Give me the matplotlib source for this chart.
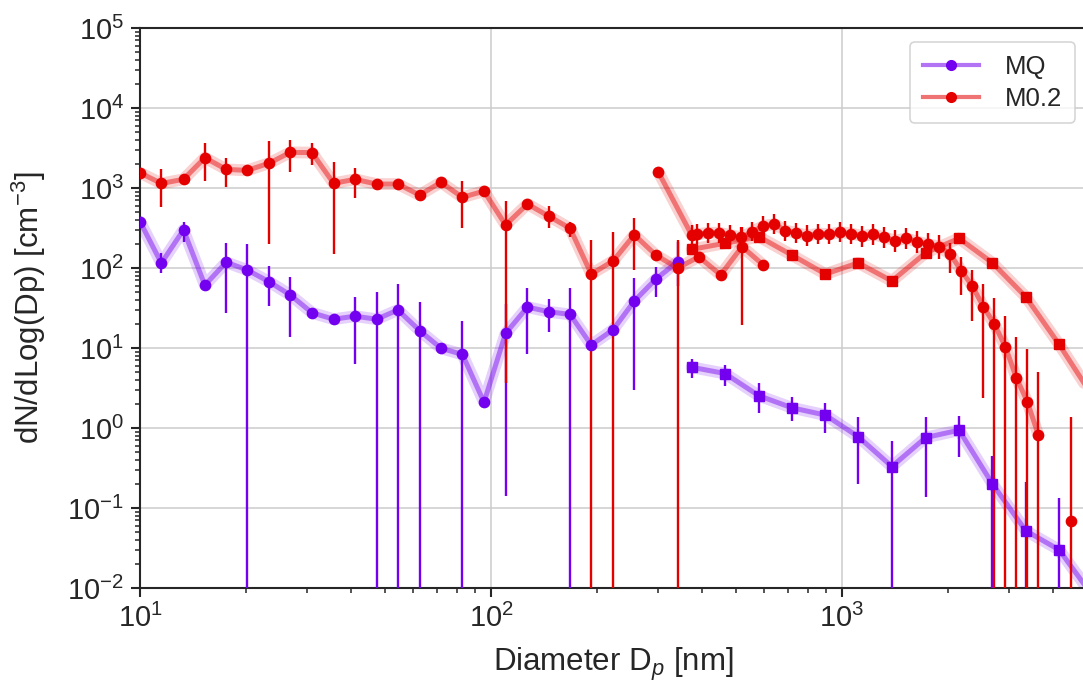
import matplotlib
matplotlib.use('Agg')
import matplotlib.pyplot as plt
from matplotlib.lines import Line2D
import numpy as np

# --- colours ---
C_MQ = '#7300ee'
C_M02 = '#e50000'

# --- SMPS-like channel diameters (nm) ---
smps_dp = [10.0, 11.5, 13.3, 15.3, 17.6, 20.2, 23.3, 26.8, 30.9, 35.6,
           41.0, 47.2, 54.3, 62.6, 72.0, 82.9, 95.5, 110, 127, 146,
           168, 193, 223, 256, 295, 340, 391, 451, 519, 597]

# MQ, SMPS (first 26 channels)
mq_smps = [380, 115, 300, 61, 118, 94.5, 67.5, 46, 27.6, 22.9,
           25, 22.9, 29.9, 16.5, 9.95, 8.3, 2.1, 15.2, 32.5, 28.4,
           26.3, 10.9, 17, 38.7, 72.8, 120]
mq_smps_lo = [330, 87, 214, 55, 27.6, 1e-4, 33.5, 13.6, 25, 20.8,
              6.3, 1e-4, 1e-4, 1e-4, 9.0, 1e-4, 1.9, 0.14, 8.4, 16,
              1e-4, 9.9, 15.5, 3.0, 43.5, 60]
mq_smps_hi = [430, 155, 380, 67, 208, 200, 105, 77.6, 30.3, 25.2,
              43.7, 50, 62.6, 38, 11, 21.9, 2.3, 35, 56, 41,
              56, 12, 18.7, 74, 104, 214]

# M0.2, SMPS
m02_smps = [1550, 1140, 1285, 2390, 1710, 1660, 2040, 2790, 2770, 1145,
            1285, 1120, 1120, 818, 1180, 765, 915, 345, 630, 445,
            313, 84, 123, 260, 145, 100, 138, 82, 185, 109]
m02_smps_lo = [1400, 586, 1180, 1230, 1020, 1520, 200, 1600, 1940, 150,
               743, 1030, 1030, 750, 1080, 316, 840, 3.68, 580, 320,
               246, 1e-4, 1e-4, 94, 133, 1e-4, 127, 75, 19.5, 100]
m02_smps_hi = [1690, 1710, 1400, 3620, 2350, 1810, 3820, 3980, 3620, 2130,
               1760, 1220, 1220, 890, 1290, 1230, 1000, 690, 690, 588,
               380, 224, 284, 417, 158, 224, 150, 89, 328, 119]

# M0.2, optical counter (circles)
opc_dp = [300, 373, 387, 416, 447, 481, 517, 555, 597, 642,
          690, 741, 797, 856, 920, 989, 1063, 1142, 1228, 1320,
          1418, 1525, 1639, 1762, 1893, 2035, 2187, 2351, 2527, 2716,
          2919, 3138, 3373, 3625, 3896, 4188, 4501]
m02_opc = [1570, 258, 265, 276, 276, 258, 242, 285, 335, 355,
           293, 276, 254, 270, 265, 280, 270, 251, 264, 242,
           220, 235, 213, 198, 185, 148, 92.5, 59.6, 32.9, 20,
           10.4, 4.25, 2.13, 0.82, np.nan, np.nan, 0.069]
m02_opc_lo = [1330, 195, 200, 205, 205, 195, 180, 215, 250, 270,
              220, 205, 190, 200, 200, 210, 200, 185, 195, 180,
              160, 175, 155, 140, 128, 87, 46, 21.9, 2.37, 1e-4,
              1e-4, 1e-4, 1e-4, 1e-4, np.nan, np.nan, 1e-4]
m02_opc_hi = [1850, 345, 355, 370, 370, 345, 325, 380, 445, 470,
              390, 370, 340, 360, 355, 375, 360, 335, 350, 325,
              300, 315, 290, 275, 260, 205, 137, 94.4, 63, 41.8,
              25.1, 13.6, 9.6, 5.05, np.nan, np.nan, 1.38]

# aerodynamic sizer (squares)
aps_dp = [373, 464, 580, 720, 897, 1112, 1387, 1732, 2155, 2683, 3339, 4155, 5173]
m02_aps = [171, 204, 246, 145, 84, 116, 68.8, 155, 235, 116, 43.6, 11.1, 2.5]
m02_aps_lo = [150, 180, 216, 128, 74, 102, 60, 136, 207, 102, 38, 9.8, 2.2]
m02_aps_hi = [194, 232, 280, 165, 96, 132, 78, 176, 267, 132, 50, 12.6, 2.8]
mq_aps = [5.75, 4.8, 2.53, 1.79, 1.45, 0.78, 0.33, 0.76, 0.94, 0.20, 0.052, 0.030, 0.008]
mq_aps_lo = [4.25, 3.38, 1.55, 1.22, 0.86, 0.2, 1e-4, 0.136, 0.44, 1e-4, 1e-4, 1e-4, 0.005]
mq_aps_hi = [7.2, 6.1, 3.62, 2.42, 2.04, 1.36, 0.69, 1.38, 1.43, 0.447, 0.214, 0.134, 0.012]

# --- style ---
FS = 21
LABEL_FS = 22.5
DARK = '#262626'
plt.rcParams['font.family'] = ['Liberation Sans', 'DejaVu Sans']
plt.rcParams['mathtext.fontset'] = 'custom'
plt.rcParams['mathtext.rm'] = 'Liberation Sans'
plt.rcParams['mathtext.it'] = 'Liberation Sans:italic'
plt.rcParams['text.color'] = DARK
plt.rcParams['axes.labelcolor'] = DARK


def draw(ax, x, y, lo, hi, color, marker, ms):
    """line + translucent band + markers with error bars"""
    x = np.asarray(x, float)
    y = np.asarray(y, float)
    lo = np.asarray(lo, float)
    hi = np.asarray(hi, float)
    ax.plot(x, y, color=color, lw=8.5, alpha=0.18, zorder=2,
            solid_capstyle='round', solid_joinstyle='round')
    ax.plot(x, y, color=color, lw=3.6, alpha=0.45, zorder=3,
            solid_joinstyle='round')
    ok = np.isfinite(y)
    ax.errorbar(x[ok], y[ok], yerr=[y[ok] - lo[ok], hi[ok] - y[ok]],
                fmt=marker, color=color, ms=ms, elinewidth=1.7,
                capsize=0, zorder=4, ls='none')


fig = plt.figure(figsize=(10.83, 6.90), dpi=100)
ax = fig.add_axes([0.1293, 0.1478, 0.8747, 0.8116])

n = len(mq_smps)
draw(ax, smps_dp[:n], mq_smps, mq_smps_lo, mq_smps_hi, C_MQ, 'o', 7.4)
draw(ax, aps_dp, mq_aps, mq_aps_lo, mq_aps_hi, C_MQ, 's', 6.8)
draw(ax, smps_dp, m02_smps, m02_smps_lo, m02_smps_hi, C_M02, 'o', 7.4)
draw(ax, opc_dp, m02_opc, m02_opc_lo, m02_opc_hi, C_M02, 'o', 7.4)
draw(ax, aps_dp, m02_aps, m02_aps_lo, m02_aps_hi, C_M02, 's', 6.8)

ax.set_xscale('log')
ax.set_yscale('log')
ax.set_xlim(10, 5000)
ax.set_ylim(1e-2, 1e5)

ax.grid(True, which='major', color='#cccccc', lw=1.1, zorder=0)
ax.set_axisbelow(True)
for s in ax.spines.values():
    s.set_color(DARK)
    s.set_linewidth(1.5)
ax.tick_params(which='major', direction='out', length=6.5, width=1.5,
               color=DARK, labelcolor=DARK, labelsize=FS, pad=5)
ax.tick_params(which='minor', direction='out', length=3.5, width=1.1, color=DARK)

ax.set_xlabel('Diameter D$_p$ [nm]', fontsize=LABEL_FS, labelpad=9)
ax.set_ylabel('dN/dLog(Dp) [cm$^{-3}$]', fontsize=LABEL_FS, labelpad=14)

handles = [
    Line2D([], [], color=matplotlib.colors.to_rgba(C_MQ, 0.55), lw=3,
           marker='o', ms=7, mfc=C_MQ, mec=C_MQ),
    Line2D([], [], color=matplotlib.colors.to_rgba(C_M02, 0.55), lw=3,
           marker='o', ms=7, mfc=C_M02, mec=C_M02),
]
leg = ax.legend(handles, ['MQ', 'M0.2'], loc='upper right',
                bbox_to_anchor=(1075 / 1083, 1 - 42 / 690),
                bbox_transform=fig.transFigure, borderaxespad=0,
                fontsize=18.5, frameon=True, fancybox=True,
                handlelength=2.2, handletextpad=1.0, borderpad=0.5,
                labelspacing=0.3)
leg.get_frame().set_edgecolor('#cccccc')
leg.get_frame().set_linewidth(1.2)

fig.savefig('out.png', dpi=100)
